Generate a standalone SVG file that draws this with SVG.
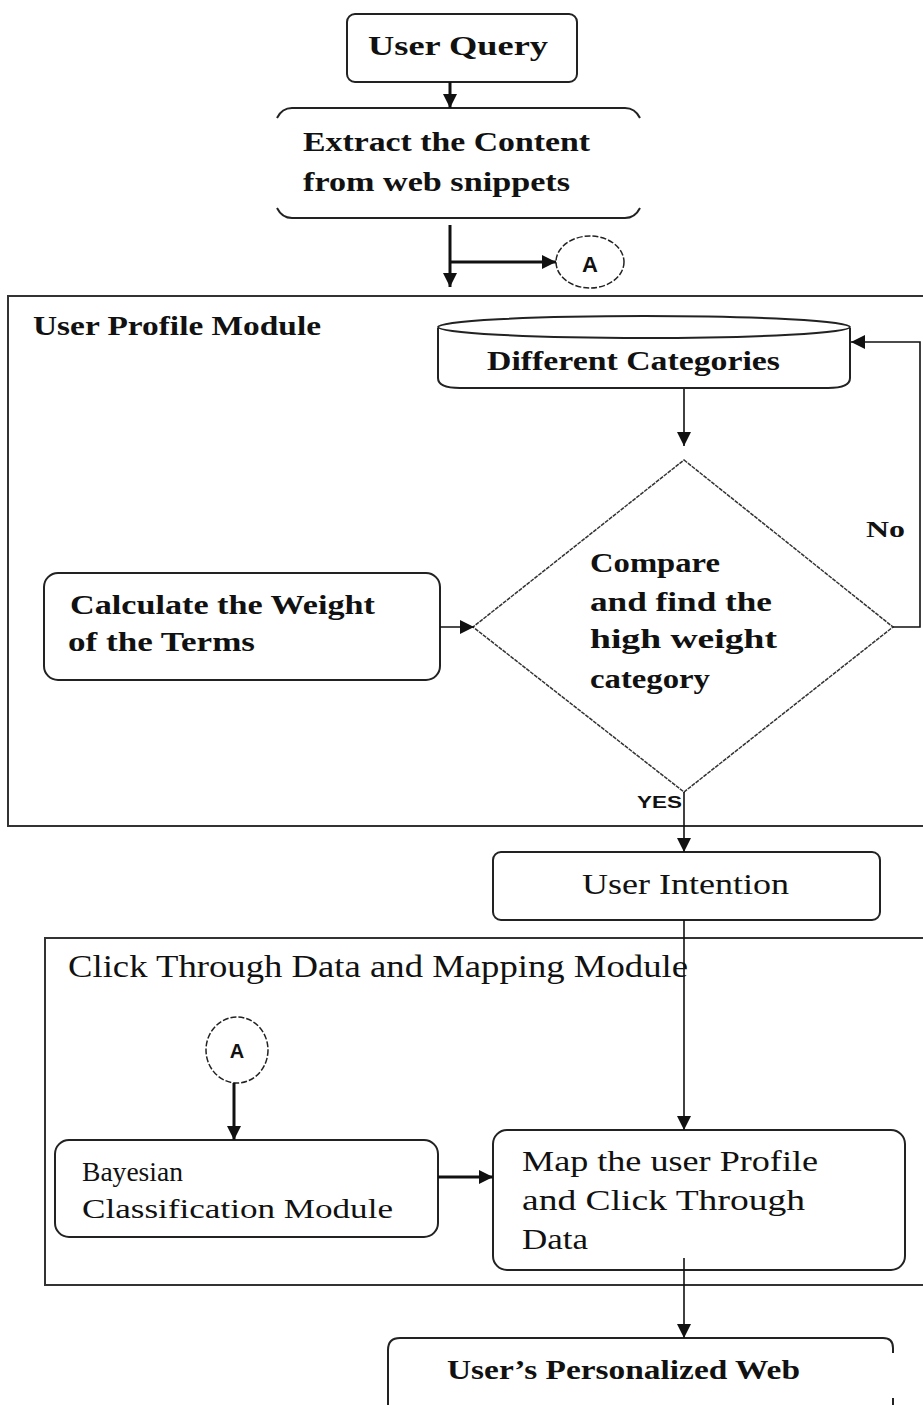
<svg xmlns="http://www.w3.org/2000/svg" width="923" height="1405" viewBox="0 0 923 1405">
<style>
.t{font-family:"Liberation Serif","Times New Roman",serif;font-weight:bold;font-size:27px;fill:#111}
.n{font-weight:normal;font-size:30px}
.box{fill:none;stroke:#222;stroke-width:2}
.mod{fill:none;stroke:#333;stroke-width:2}
.c{fill:none;stroke:#111;stroke-width:3}
.c2{fill:none;stroke:#111;stroke-width:1.6}
</style>
<defs>
<marker id="ah" viewBox="0 0 10 10" refX="10" refY="5" markerWidth="14" markerHeight="14" markerUnits="userSpaceOnUse" orient="auto">
<path d="M0,0 L10,5 L0,10 Z" fill="#111"/>
</marker>
</defs>
<rect width="923" height="1405" fill="#fff"/>

<g id="module-user-profile">
<rect class="mod" x="8" y="296" width="930" height="530"/>
<text class="t" x="33" y="335" textLength="288" lengthAdjust="spacingAndGlyphs">User Profile Module</text>
</g>
<g id="module-click-through">
<rect class="mod" x="45" y="938" width="890" height="347"/>
<text class="t n" x="68" y="977" textLength="620" lengthAdjust="spacingAndGlyphs" style="font-size:32px">Click  Through Data and Mapping Module</text>
</g>

<g id="user-query">
<rect class="box" x="347" y="14" width="230" height="68" rx="8"/>
<text class="t" x="368" y="55" textLength="180" lengthAdjust="spacingAndGlyphs">User  Query</text>
</g>

<g id="extract">
<path class="box" d="M277,118 Q282,108 292,108 L625,108 Q635,108 640,118"/>
<path class="box" d="M277,208 Q282,218 292,218 L625,218 Q635,218 640,208"/>
<text class="t" x="303" y="151" textLength="287" lengthAdjust="spacingAndGlyphs">Extract the Content</text>
<text class="t" x="303" y="191" textLength="267" lengthAdjust="spacingAndGlyphs">from web snippets</text>
</g>

<g id="connector-a-top">
<ellipse cx="590" cy="262" rx="34" ry="26" fill="none" stroke="#222" stroke-width="1.5" stroke-dasharray="6,2"/>
<text class="t" x="590" y="272" text-anchor="middle" style="font-family:'Liberation Sans',Arial,sans-serif;font-size:22px">A</text>
</g>

<g id="different-categories">
<path class="box" d="M438,328 L438,378 Q438,388 460,388 L828,388 Q850,388 850,378 L850,328"/>
<ellipse cx="644" cy="327" rx="206" ry="11" fill="none" stroke="#222" stroke-width="2"/>
<text class="t" x="487" y="370" textLength="293" lengthAdjust="spacingAndGlyphs">Different Categories</text>
</g>

<g id="compare">
<polygon points="684,460 893,627 684,792 473,627" fill="none" stroke="#333" stroke-width="1.5" stroke-dasharray="4,1"/>
<text class="t" x="590" y="572" textLength="130" lengthAdjust="spacingAndGlyphs">Compare</text>
<text class="t" x="590" y="611" textLength="182" lengthAdjust="spacingAndGlyphs">and find the</text>
<text class="t" x="590" y="648" textLength="187" lengthAdjust="spacingAndGlyphs">high  weight</text>
<text class="t" x="590" y="688" textLength="120" lengthAdjust="spacingAndGlyphs">category</text>
</g>

<g id="calculate">
<rect class="box" x="44" y="573" width="396" height="107" rx="14"/>
<text class="t" x="70" y="614" textLength="305" lengthAdjust="spacingAndGlyphs">Calculate the Weight</text>
<text class="t" x="68" y="651" textLength="187" lengthAdjust="spacingAndGlyphs">of the Terms</text>
</g>

<g id="user-intention">
<rect class="box" x="493" y="852" width="387" height="68" rx="8"/>
<text class="t n" x="582" y="894" textLength="207" lengthAdjust="spacingAndGlyphs">User Intention</text>
</g>

<g id="connector-a-bottom">
<ellipse cx="237" cy="1050" rx="31" ry="33" fill="none" stroke="#222" stroke-width="1.5" stroke-dasharray="6,2"/>
<text class="t" x="237" y="1058" text-anchor="middle" style="font-family:'Liberation Sans',Arial,sans-serif;font-size:20px">A</text>
</g>

<g id="bayesian">
<rect class="box" x="55" y="1140" width="383" height="97" rx="14"/>
<text class="t n" x="82" y="1181" textLength="101" lengthAdjust="spacingAndGlyphs" style="font-size:28px">Bayesian</text>
<text class="t n" x="82" y="1218" textLength="311" lengthAdjust="spacingAndGlyphs" style="font-size:28px">Classification Module</text>
</g>

<g id="map">
<rect class="box" x="493" y="1130" width="412" height="140" rx="14"/>
<text class="t n" x="522" y="1171" textLength="296" lengthAdjust="spacingAndGlyphs">Map the user Profile</text>
<text class="t n" x="522" y="1210" textLength="283" lengthAdjust="spacingAndGlyphs">and  Click Through</text>
<text class="t n" x="522" y="1249" textLength="66" lengthAdjust="spacingAndGlyphs">Data</text>
</g>

<g id="personalized-web">
<path class="box" d="M388,1405 L388,1350 Q388,1338 400,1338 L883,1338 Q893,1338 893,1348 L893,1353 M893,1398 L893,1405"/>
<text class="t" x="447" y="1379" textLength="353" lengthAdjust="spacingAndGlyphs">User’s Personalized Web</text>
</g>

<g id="connectors">
<line class="c" x1="450" y1="82" x2="450" y2="108" marker-end="url(#ah)"/>
<line class="c" x1="450" y1="225" x2="450" y2="287" marker-end="url(#ah)"/>
<line class="c" x1="450" y1="262" x2="556" y2="262" marker-end="url(#ah)"/>
<line class="c2" x1="684" y1="389" x2="684" y2="446" marker-end="url(#ah)"/>
<line class="c2" x1="440" y1="627" x2="474" y2="627" marker-end="url(#ah)"/>
<polyline class="c2" points="893,627 920,627 920,342 851,342" marker-end="url(#ah)"/>
<line class="c2" x1="684" y1="792" x2="684" y2="852" marker-end="url(#ah)"/>
<text class="t" x="866" y="537" textLength="39" lengthAdjust="spacingAndGlyphs" style="font-size:24px">No</text>
<text class="t" x="637" y="808" textLength="45" lengthAdjust="spacingAndGlyphs" style="font-size:17px;font-family:'Liberation Sans',Arial,sans-serif">YES</text>
<line class="c2" x1="684" y1="920" x2="684" y2="1130" marker-end="url(#ah)"/>
<line class="c" x1="234" y1="1083" x2="234" y2="1140" marker-end="url(#ah)"/>
<line class="c" x1="438" y1="1177" x2="493" y2="1177" marker-end="url(#ah)"/>
<line class="c2" x1="684" y1="1258" x2="684" y2="1338" marker-end="url(#ah)"/>
</g>
</svg>
